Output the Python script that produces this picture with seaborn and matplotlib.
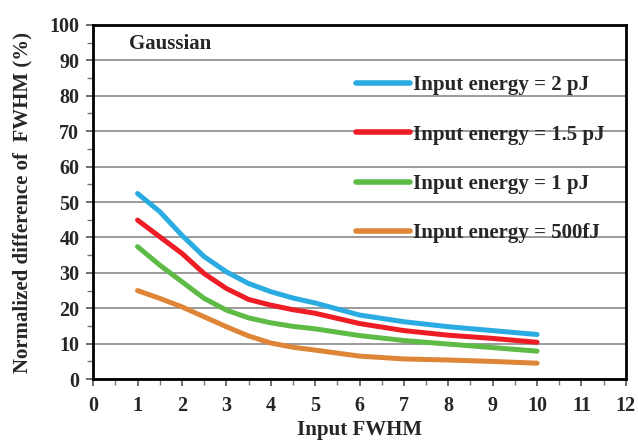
import matplotlib
matplotlib.use("Agg")
import matplotlib.pyplot as plt
import seaborn as sns
import pandas as pd
from matplotlib.ticker import MultipleLocator

fwhm = [1, 1.5, 2, 2.5, 3, 3.5, 4, 4.5, 5, 6, 7, 8, 9, 10]
e_2pj = [52.4, 47.3, 40.6, 34.6, 30.3, 27.0, 24.7, 22.9, 21.5, 18.1, 16.2, 14.8, 13.7, 12.6]
e_15pj = [44.9, 40.2, 35.5, 29.8, 25.6, 22.5, 20.9, 19.6, 18.6, 15.7, 13.7, 12.4, 11.5, 10.4]
e_1pj = [37.4, 32.2, 27.5, 22.8, 19.5, 17.3, 15.9, 14.9, 14.2, 12.3, 10.9, 9.9, 8.9, 7.9]
e_500fj = [25.0, 22.8, 20.4, 17.6, 14.8, 12.2, 10.2, 9.0, 8.2, 6.5, 5.7, 5.4, 5.0, 4.5]
labels = ["Input energy = 2 pJ", "Input energy = 1.5 pJ",
          "Input energy = 1 pJ", "Input energy = 500fJ"]
colors = ["#2AACE2", "#EE1C25", "#5DBB46", "#DE8537"]

rows = []
for lab, vals in zip(labels, [e_2pj, e_15pj, e_1pj, e_500fj]):
    for x, v in zip(fwhm, vals):
        rows.append({"fwhm": x, "val": v, "series": lab})
df = pd.DataFrame(rows)

sns.set_style("white")
plt.rcParams["font.family"] = ["Liberation Serif", "DejaVu Serif"]
plt.rcParams["font.weight"] = "bold"

fig = plt.figure(figsize=(6.38, 4.45), dpi=100)
ax = fig.add_axes([0.146, 0.148, 0.835, 0.796])

sns.lineplot(data=df, x="fwhm", y="val", hue="series", hue_order=labels,
             palette=colors, linewidth=3.6, ax=ax, legend=True, zorder=3)
for ln in ax.get_lines():
    ln.set_solid_capstyle("round")
    ln.set_solid_joinstyle("round")

ax.set_xlim(0, 12)
ax.set_ylim(0, 100)
ax.xaxis.set_major_locator(MultipleLocator(1))
ax.xaxis.set_minor_locator(MultipleLocator(0.5))
ax.yaxis.set_major_locator(MultipleLocator(10))
ax.yaxis.set_minor_locator(MultipleLocator(5))
ax.tick_params(axis="both", which="major", direction="out", length=5,
               width=1.2, color="#555555", labelsize=14.5,
               bottom=True, left=True)
ax.tick_params(axis="x", which="major", pad=7)
ax.tick_params(axis="y", which="major", pad=5)
ax.tick_params(axis="both", which="minor", direction="out", length=4,
               width=1.0, color="#777777", bottom=True, left=True)
for t in ax.get_xticklabels() + ax.get_yticklabels():
    t.set_fontweight("bold")

ax.grid(axis="y", which="major", color="#8a8a8a", linewidth=1.2, zorder=0)
ax.grid(axis="x", visible=False)
for s in ax.spines.values():
    s.set_visible(True)
    s.set_color("black")
    s.set_linewidth(2.0)

ax.set_xlabel("Input FWHM", fontsize=15, fontweight="bold", labelpad=3)
ax.set_ylabel("Normalized difference of  FWHM (%)", fontsize=15,
              fontweight="bold", labelpad=12)

ax.text(0.068, 0.945, "Gaussian", transform=ax.transAxes, fontsize=15,
        fontweight="bold", va="center", ha="left")

handles, labs = ax.get_legend_handles_labels()
leg = ax.legend(handles, labs, loc="upper left", bbox_to_anchor=(0.493, 0.858),
                frameon=False, fontsize=15, handlelength=2.6,
                handletextpad=0.15, labelspacing=1.41, borderpad=0,
                borderaxespad=0)
for h in leg.legend_handles:
    h.set_linewidth(4.0)
    h.set_solid_capstyle("round")
for t in leg.get_texts():
    t.set_fontweight("bold")

fig.savefig("out.png", dpi=100)
